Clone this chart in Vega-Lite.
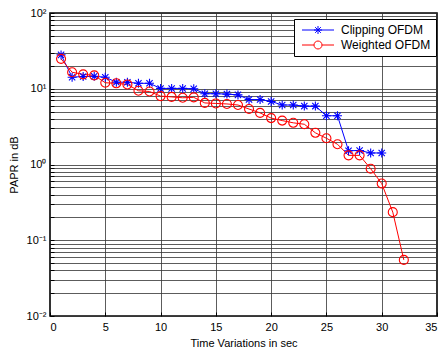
{
  "$schema": "https://vega.github.io/schema/vega-lite/v6.json",
  "width": 387,
  "height": 303,
  "autosize": {"type": "none"},
  "padding": {"left": 50, "top": 13, "right": 4, "bottom": 36},
  "background": "white",
  "config": {
    "font": "Liberation Sans",
    "view": {"stroke": "black", "strokeWidth": 1.6},
    "axis": {
      "domain": false,
      "grid": true,
      "gridColor": "#333333",
      "gridOpacity": 0.8,
      "gridWidth": 1,
      "ticks": true,
      "tickSize": -4,
      "tickColor": "black",
      "labelFont": "Liberation Sans",
      "labelFontSize": 11,
      "labelColor": "black",
      "titleFont": "Liberation Sans",
      "titleFontSize": 11,
      "titleFontWeight": "normal",
      "titleColor": "black"
    }
  },
  "data": {
    "values": [
      {"series": "Clipping OFDM", "time": 1, "papr": 28},
      {"series": "Clipping OFDM", "time": 2, "papr": 14.2},
      {"series": "Clipping OFDM", "time": 3, "papr": 14.5},
      {"series": "Clipping OFDM", "time": 4, "papr": 14.6},
      {"series": "Clipping OFDM", "time": 5, "papr": 14.2},
      {"series": "Clipping OFDM", "time": 6, "papr": 12.2},
      {"series": "Clipping OFDM", "time": 7, "papr": 12.2},
      {"series": "Clipping OFDM", "time": 8, "papr": 11.8},
      {"series": "Clipping OFDM", "time": 9, "papr": 11.8},
      {"series": "Clipping OFDM", "time": 10, "papr": 10.1},
      {"series": "Clipping OFDM", "time": 11, "papr": 10.1},
      {"series": "Clipping OFDM", "time": 12, "papr": 10.1},
      {"series": "Clipping OFDM", "time": 13, "papr": 10.0},
      {"series": "Clipping OFDM", "time": 14, "papr": 8.6},
      {"series": "Clipping OFDM", "time": 15, "papr": 8.6},
      {"series": "Clipping OFDM", "time": 16, "papr": 8.5},
      {"series": "Clipping OFDM", "time": 17, "papr": 8.3},
      {"series": "Clipping OFDM", "time": 18, "papr": 7.2},
      {"series": "Clipping OFDM", "time": 19, "papr": 7.2},
      {"series": "Clipping OFDM", "time": 20, "papr": 6.8},
      {"series": "Clipping OFDM", "time": 21, "papr": 6.1},
      {"series": "Clipping OFDM", "time": 22, "papr": 6.1},
      {"series": "Clipping OFDM", "time": 23, "papr": 5.9},
      {"series": "Clipping OFDM", "time": 24, "papr": 5.9},
      {"series": "Clipping OFDM", "time": 25, "papr": 4.4},
      {"series": "Clipping OFDM", "time": 26, "papr": 4.4},
      {"series": "Clipping OFDM", "time": 27, "papr": 1.52},
      {"series": "Clipping OFDM", "time": 28, "papr": 1.53},
      {"series": "Clipping OFDM", "time": 29, "papr": 1.42},
      {"series": "Clipping OFDM", "time": 30, "papr": 1.42},
      {"series": "Weighted OFDM", "time": 1, "papr": 24.8},
      {"series": "Weighted OFDM", "time": 2, "papr": 16.5},
      {"series": "Weighted OFDM", "time": 3, "papr": 15.5},
      {"series": "Weighted OFDM", "time": 4, "papr": 15.0},
      {"series": "Weighted OFDM", "time": 5, "papr": 12.0},
      {"series": "Weighted OFDM", "time": 6, "papr": 11.8},
      {"series": "Weighted OFDM", "time": 7, "papr": 11.4},
      {"series": "Weighted OFDM", "time": 8, "papr": 9.4},
      {"series": "Weighted OFDM", "time": 9, "papr": 9.2},
      {"series": "Weighted OFDM", "time": 10, "papr": 8.0},
      {"series": "Weighted OFDM", "time": 11, "papr": 7.8},
      {"series": "Weighted OFDM", "time": 12, "papr": 7.6},
      {"series": "Weighted OFDM", "time": 13, "papr": 7.7},
      {"series": "Weighted OFDM", "time": 14, "papr": 6.5},
      {"series": "Weighted OFDM", "time": 15, "papr": 6.4},
      {"series": "Weighted OFDM", "time": 16, "papr": 6.3},
      {"series": "Weighted OFDM", "time": 17, "papr": 6.1},
      {"series": "Weighted OFDM", "time": 18, "papr": 5.4},
      {"series": "Weighted OFDM", "time": 19, "papr": 4.8},
      {"series": "Weighted OFDM", "time": 20, "papr": 4.1},
      {"series": "Weighted OFDM", "time": 21, "papr": 3.8},
      {"series": "Weighted OFDM", "time": 22, "papr": 3.55},
      {"series": "Weighted OFDM", "time": 23, "papr": 3.4},
      {"series": "Weighted OFDM", "time": 24, "papr": 2.62},
      {"series": "Weighted OFDM", "time": 25, "papr": 2.22},
      {"series": "Weighted OFDM", "time": 26, "papr": 1.85},
      {"series": "Weighted OFDM", "time": 27, "papr": 1.32},
      {"series": "Weighted OFDM", "time": 28, "papr": 1.32},
      {"series": "Weighted OFDM", "time": 29, "papr": 0.88},
      {"series": "Weighted OFDM", "time": 30, "papr": 0.56},
      {"series": "Weighted OFDM", "time": 31, "papr": 0.235},
      {"series": "Weighted OFDM", "time": 32, "papr": 0.055}
    ]
  },
  "encoding": {
    "x": {
      "field": "time",
      "type": "quantitative",
      "scale": {"domain": [0, 35], "nice": false},
      "axis": {
        "values": [0, 5, 10, 15, 20, 25, 30, 35],
        "title": "Time Variations in sec",
        "labelPadding": 9,
        "titlePadding": 5
      }
    },
    "y": {
      "field": "papr",
      "type": "quantitative",
      "scale": {"type": "log", "domain": [0.01, 100], "nice": false},
      "axis": {
        "values": [0.01, 0.02, 0.03, 0.04, 0.05, 0.06, 0.07, 0.08, 0.09, 0.1, 0.2, 0.3, 0.4, 0.5, 0.6, 0.7, 0.8, 0.9, 1, 2, 3, 4, 5, 6, 7, 8, 9, 10, 20, 30, 40, 50, 60, 70, 80, 90, 100],
        "labelExpr": "datum.value == 100 ? '10²' : datum.value == 10 ? '10¹' : datum.value == 1 ? '10⁰' : datum.value == 0.1 ? '10⁻¹' : datum.value == 0.01 ? '10⁻²' : ''",
        "title": "PAPR in dB",
        "labelPadding": 8,
        "titlePadding": 7
      }
    },
    "color": {
      "field": "series",
      "type": "nominal",
      "scale": {"domain": ["Clipping OFDM", "Weighted OFDM"], "range": ["#0000ff", "#ff0000"]},
      "legend": {
        "title": null,
        "orient": "none",
        "legendX": 244,
        "legendY": 6,
        "strokeColor": "black",
        "fillColor": "white",
        "padding": 5,
        "labelFont": "Liberation Sans",
        "labelFontSize": 12,
        "labelColor": "black",
        "symbolSize": 100,
        "symbolStrokeWidth": 1,
        "symbolFillColor": "transparent",
        "symbolOpacity": 1,
        "symbolOffset": 2,
        "labelOffset": 28,
        "rowPadding": 3,
        "encode": {
          "symbols": {
            "update": {
              "shape": {"signal": "datum.value === 'Clipping OFDM' ? 'M-1,0L5.4,0M1.4,0L3,0M2.2,-0.8L2.2,0.8M1.63,-0.57L2.77,0.57M1.63,0.57L2.77,-0.57' : 'M-1,0L1.4,0M3,0L5.4,0M3,0A0.8,0.8 0 1,1 1.4,0A0.8,0.8 0 1,1 3,0'"}
            }
          }
        }
      }
    }
  },
  "layer": [
    {"mark": {"type": "line", "strokeWidth": 1}},
    {
      "transform": [{"filter": "datum.series === 'Clipping OFDM'"}],
      "mark": {"type": "point", "filled": false, "size": 81, "strokeWidth": 1.1, "opacity": 1, "shape": "M-1,0L1,0M0,-1L0,1M-0.7,-0.7L0.7,0.7M-0.7,0.7L0.7,-0.7"}
    },
    {
      "transform": [{"filter": "datum.series === 'Weighted OFDM'"}],
      "mark": {"type": "point", "filled": false, "size": 81, "strokeWidth": 1.1, "opacity": 1, "shape": "circle"}
    }
  ]
}
